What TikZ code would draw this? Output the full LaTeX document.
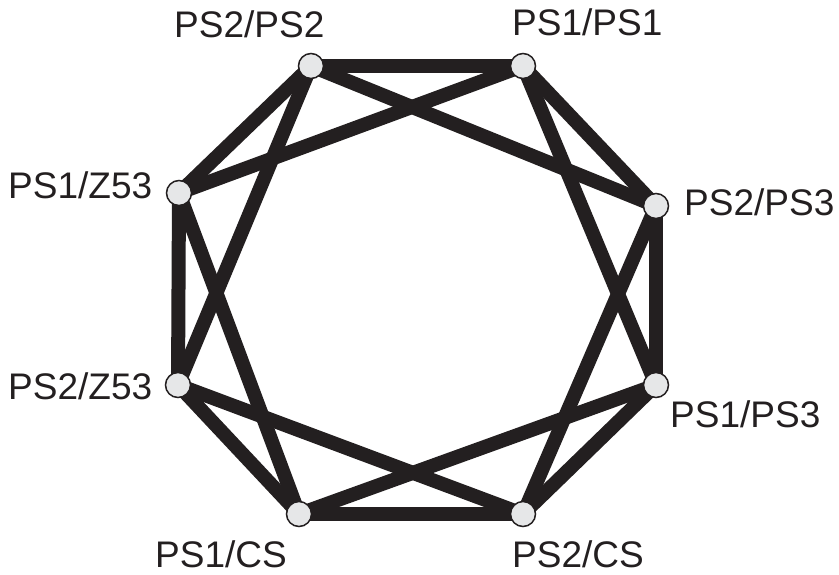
\documentclass[tikz,border=0pt]{standalone}
\usepackage{fontspec}
\setmainfont{Liberation Sans}
\usetikzlibrary{positioning}
\definecolor{edgeblack}{HTML}{231F20}
\definecolor{nodegray}{HTML}{E6E7E8}

\begin{document}
\begin{tikzpicture}[
  x=1pt, y=-1pt,
  site/.style={circle, draw=edgeblack, fill=nodegray, line width=1.5pt,
               minimum size=25pt, inner sep=0pt},
  tag/.style={anchor=base west, inner sep=0pt,
              font=\fontsize{37}{40}\selectfont, text=edgeblack},
  link/.style={draw=edgeblack, line width=14pt}
]
\useasboundingbox (0,0) rectangle (839,574);

% === Sites on the octagon ===
\coordinate (A) at (311,66);   % PS2/PS2
\coordinate (B) at (523,66);   % PS1/PS1
\coordinate (C) at (656,206);  % PS2/PS3
\coordinate (D) at (656,385);  % PS1/PS3
\coordinate (E) at (523,514);  % PS2/CS
\coordinate (F) at (299,514);  % PS1/CS
\coordinate (G) at (178,385);  % PS2/Z53
\coordinate (H) at (179,193);  % PS1/Z53

% === Links: neighbours and second neighbours ===
\foreach \p/\q in {A/B, B/C, C/D, D/E, E/F, F/G, G/H, H/A,
                   A/C, B/D, C/E, D/F, E/G, F/H, G/A, H/B}
  \draw[link] (\p) -- (\q);

% === Site markers ===
\foreach \p in {A,B,C,D,E,F,G,H}
  \node[site] (\p-dot) at (\p) {};

% === Labels ===
\node[tag] (lA) at (174,37)  {PS2/PS2};
\node[tag] (lB) at (512,35)  {PS1/PS1};
\node[tag] (lC) at (684,215) {PS2/PS3};
\node[tag] (lD) at (670,427) {PS1/PS3};
\node[tag] (lE) at (512,567) {PS2/CS};
\node[tag] (lF) at (155,567) {PS1/CS};
\node[tag] (lG) at (8,399)   {PS2/Z53};
\node[tag] (lH) at (8,198)   {PS1/Z53};

\end{tikzpicture}
\end{document}
